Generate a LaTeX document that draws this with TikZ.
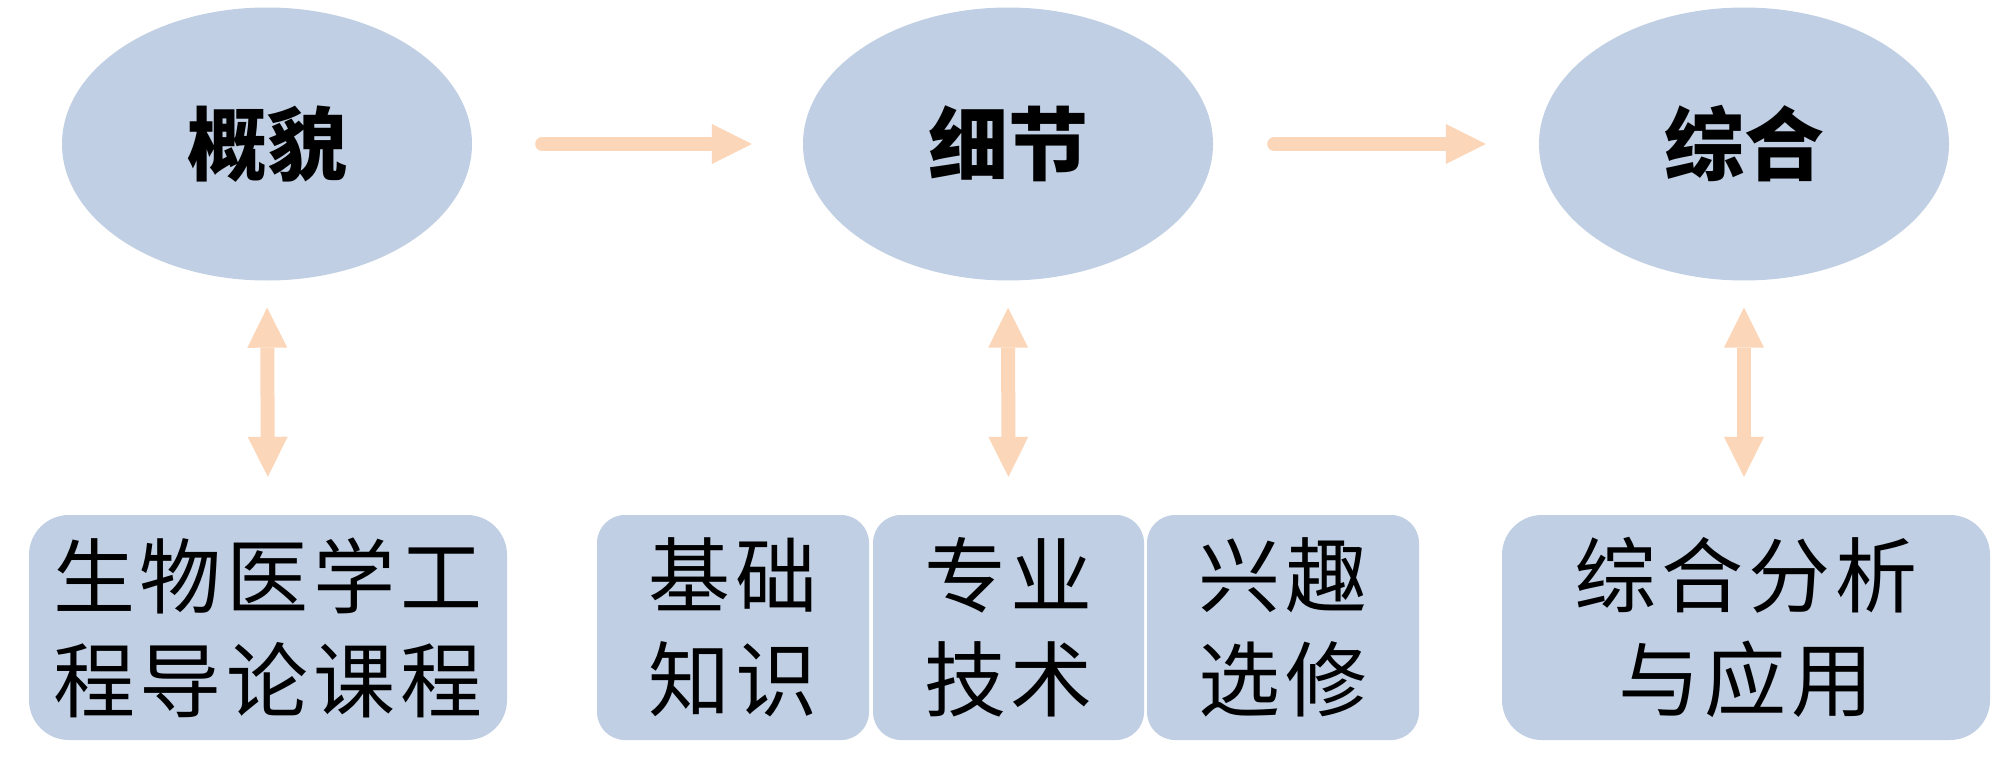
\documentclass[tikz,border=0pt]{standalone}
\usepackage{fontspec}
\newfontfamily\cjk{Noto Sans CJK SC}
\newfontfamily\cjkbox[LetterSpace=6]{Noto Sans CJK SC}
\usetikzlibrary{arrows.meta,shapes.geometric}
\definecolor{ellfill}{RGB}{192,207,227}
\definecolor{arrowc}{RGB}{251,214,184}
\tikzset{
  ell/.style={ellipse, fill=ellfill, minimum width=410pt, minimum height=273pt, inner sep=0pt,
    font=\cjk\bfseries\fontsize{80}{96}\selectfont},
  box/.style={rectangle, fill=ellfill, minimum height=225pt, inner sep=0pt, align=center,
    font=\cjkbox\fontsize{82}{104}\selectfont},
  tip/.tip={Triangle[width=40pt,length=40pt,line width=0pt]},
  harrow/.style={draw=arrowc, line width=14pt, line cap=round, -tip},
  varrow/.style={draw=arrowc, line width=14pt, tip-tip}
}
\begin{document}
\begin{tikzpicture}[x=1pt,y=-1pt]
\fill[white] (0,0) rectangle (2000,771);
\node[ell] (e1) at (267,144) {概貌};
\node[ell] (e2) at (1008,144) {细节};
\node[ell] (e3) at (1744,144) {综合};
\node[box, minimum width=478pt, rounded corners=40pt] (b1) at (268,627.5) {生物医学工\\程导论课程};
\node[box, minimum width=272pt, rounded corners=28pt] (b2) at (733,627.5) {基础\\知识};
\node[box, minimum width=271pt, rounded corners=28pt] (b3) at (1008.5,627.5) {专业\\技术};
\node[box, minimum width=272pt, rounded corners=28pt] (b4) at (1283,627.5) {兴趣\\选修};
\node[box, minimum width=488pt, rounded corners=40pt] (b5) at (1746,627.5) {综合分析\\与应用};
\draw[harrow, shorten <=70pt, shorten >=51pt] (e1.east) -- (e2.west);
\draw[harrow, shorten <=61pt, shorten >=53pt] (e2.east) -- (e3.west);
\draw[varrow, shorten <=27pt, shorten >=38pt] (e1.south) -- (b1.north);
\draw[varrow, shorten <=27pt, shorten >=38pt] (e2.south) -- (b3.north);
\draw[varrow, shorten <=27pt, shorten >=38pt] (e3.south) -- (e3.south |- b5.north);
\end{tikzpicture}
\end{document}
